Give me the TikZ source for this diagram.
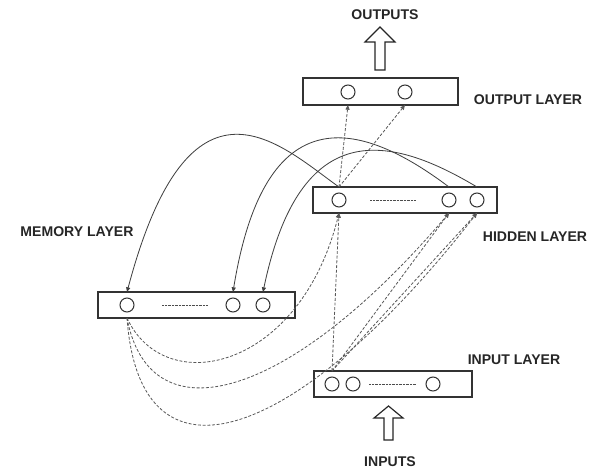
\documentclass[tikz,border=0pt]{standalone}
\usepackage{fontspec}
\setmainfont{Liberation Sans}
\usetikzlibrary{arrows.meta}
\begin{document}
\begin{tikzpicture}[x=0.03cm,y=-0.03cm,
  layerbox/.style={draw=black!80,line width=1pt,fill=white,inner sep=0pt,outer sep=0pt,minimum height=0.78cm},
  unit/.style={circle,draw=black!80,line width=0.9pt,inner sep=0pt,outer sep=0pt,minimum size=0.42cm},
  lbl/.style={font=\fontsize{12}{14}\selectfont\bfseries,text=black!85,inner sep=0pt},
  copyline/.style={draw=black!75,line width=0.7pt,-{Triangle[length=4pt,width=3.5pt]}},
  feed/.style={draw=black!65,line width=0.7pt,dash pattern=on 2.5pt off 1.5pt,-{Triangle[length=4pt,width=3.5pt]}},
  dotsline/.style={draw=black!70,line width=0.8pt,dash pattern=on 0.6pt off 0.6pt},
  hollow/.style={draw=black!85,line width=1pt,fill=white,line join=miter}
]
\useasboundingbox (0,0) rectangle (600,472);

% layer boxes
\node[layerbox,minimum width=4.65cm,minimum height=0.81cm] (outb) at (380.5,91.5) {};
\node[layerbox,minimum width=5.52cm] (hidb) at (405,200) {};
\node[layerbox,minimum width=5.91cm] (memb) at (196.5,305) {};
\node[layerbox,minimum width=4.74cm] (inb) at (393,384) {};

% units
\node[unit] (o1) at (348,92) {};
\node[unit] (o2) at (405,92) {};
\node[unit] (h1) at (339,200) {};
\node[unit] (h2) at (449,200) {};
\node[unit] (h3) at (477,200) {};
\node[unit] (m1) at (127,305) {};
\node[unit] (m2) at (233,305) {};
\node[unit] (m3) at (263,305) {};
\node[unit] (i1) at (332,384) {};
\node[unit] (i2) at (353,384) {};
\node[unit] (i3) at (433,384) {};

% dotted fillers
\coordinate (hd1) at (370,200); \coordinate (hd2) at (416,200);
\coordinate (md1) at (162,305); \coordinate (md2) at (208,305);
\coordinate (id1) at (369,384); \coordinate (id2) at (416,384);
\draw[dotsline] (hd1) -- (hd2);
\draw[dotsline] (md1) -- (md2);
\draw[dotsline] (id1) -- (id2);

% labels
\node[lbl] (outputs) at (385,15) {OUTPUTS};
\node[lbl] (inputs) at (390,462) {INPUTS};
\node[lbl] (outl) at (528,100) {OUTPUT LAYER};
\node[lbl] (hidl) at (535,237) {HIDDEN LAYER};
\node[lbl] (meml) at (77,232) {MEMORY LAYER};
\node[lbl] (inl) at (514,360) {INPUT LAYER};

% hollow arrows
\draw[hollow] (380,27) -- (395,42) -- (385,42) -- (385,70) -- (375,70) -- (375,42) -- (365,42) -- cycle;
\draw[hollow] (388.5,406) -- (403,418) -- (393,418) -- (393,440) -- (384,440) -- (384,418) -- (374,418) -- cycle;

% copy connections hidden -> memory
\draw[copyline] (h1 |- hidb.north) .. controls (280,145) and (190,55) .. (m1 |- memb.north);
\draw[copyline] (h2 |- hidb.north) .. controls (360,120) and (265,95) .. (m2 |- memb.north);
\draw[copyline] (h3 |- hidb.north) .. controls (390,135) and (300,115) .. (m3 |- memb.north);

% input -> hidden
\draw[feed] (i1 |- inb.north) -- (h1 |- hidb.south);
\draw[feed] (i1 |- inb.north) -- (h2 |- hidb.south);
\draw[feed] (i1 |- inb.north) -- (h3 |- hidb.south);

% memory -> hidden
\draw[feed] (m1 |- memb.south) .. controls (165,400) and (300,370) .. (h1 |- hidb.south);
\draw[feed] (m1 |- memb.south) .. controls (150,440) and (290,400) .. (h2 |- hidb.south);
\draw[feed] (m1 |- memb.south) .. controls (140,500) and (300,440) .. (h3 |- hidb.south);

% hidden -> output
\draw[feed] (h1 |- hidb.north) -- (o1 |- outb.south);
\draw[feed] (h1 |- hidb.north) -- (o2 |- outb.south);
\end{tikzpicture}
\end{document}
